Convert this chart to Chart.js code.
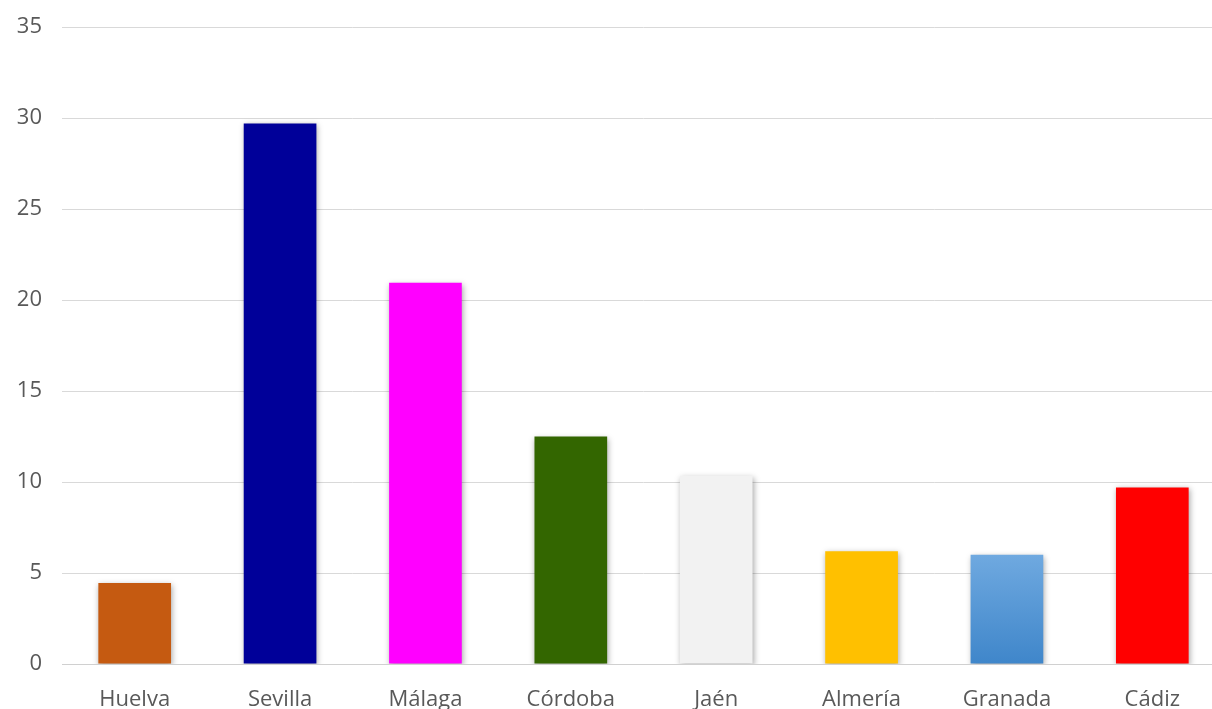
<!DOCTYPE html>
<html>
<head>
<meta charset="utf-8">
<script src="https://cdn.jsdelivr.net/npm/chart.js@4"></script>
<style>
    body { margin: 0; background: #fff; overflow: hidden; }
    #chart-wrap { width: 1212px; height: 709px; overflow: hidden; }
</style>
</head>
<body>
<div id="chart-wrap"><canvas id="provincias" width="1225" height="709"></canvas></div>
<script>
const provincias = ["Huelva", "Sevilla", "Málaga", "Córdoba", "Jaén", "Almería", "Granada", "Cádiz"];
const valores = [4.45, 29.7, 20.95, 12.5, 10.35, 6.2, 6.0, 9.7];
const colores = ["#c55a11", "#000099", "#ff00ff", "#336600", "#f2f2f2", "#ffc000", "granada", "#ff0000"];
const yTicks = [0, 5, 10, 15, 20, 25, 30, 35];

// soft shadow behind the bars, like the office chart
const barShadow = {
    id: 'barShadow',
    beforeDatasetsDraw: (chart) => {
        const ctx = chart.ctx;
        ctx.save();
        ctx.shadowColor = 'rgba(0,0,0,0.35)';
        ctx.shadowBlur = 6;
        ctx.shadowOffsetX = 1;
        ctx.shadowOffsetY = 2;
    },
    afterDatasetsDraw: (chart) => {
        chart.ctx.restore();
    }
};

const fillColor = (context) => {
    const c = colores[context.dataIndex];
    if (c !== "granada") return c;
    const area = context.chart.chartArea;
    const yScale = context.chart.scales.y;
    if (!area || !yScale) return "#5b9bd5";
    const top = yScale.getPixelForValue(valores[context.dataIndex]);
    if (!isFinite(top) || !isFinite(area.bottom)) return "#5b9bd5";
    const g = context.chart.ctx.createLinearGradient(0, top, 0, area.bottom);
    g.addColorStop(0, "#6fa9e0");
    g.addColorStop(1, "#3f86ca");
    return g;
};

new Chart(document.getElementById('provincias'), {
    type: 'bar',
    data: {
        labels: provincias,
        datasets: [{
            data: valores,
            backgroundColor: fillColor,
            borderWidth: 0,
            categoryPercentage: 1,
            barPercentage: 0.5
        }]
    },
    options: {
        responsive: false,
        animation: false,
        layout: { padding: { top: 27, right: 0, left: 0, bottom: 0 } },
        plugins: { legend: { display: false }, tooltip: { enabled: false } },
        scales: {
            x: {
                grid: { display: false },
                border: { color: '#d0d0d0', width: 1 },
                ticks: { color: '#595959', font: { family: 'Open Sans', size: 22 }, padding: 15 },
                afterFit: (s) => { s.height = 45; s.paddingLeft = 0; s.paddingRight = 0; }
            },
            y: {
                min: 0,
                max: 35,
                afterBuildTicks: (s) => { s.ticks = yTicks.map(v => ({ value: v })); },
                grid: { color: '#d9d9d9', drawTicks: false },
                border: { display: false },
                ticks: { color: '#595959', font: { family: 'Open Sans', size: 22 }, padding: 20 },
                afterFit: (s) => { s.width = 62; s.paddingTop = 0; s.paddingBottom = 0; }
            }
        }
    },
    plugins: [barShadow]
});
</script>
</body>
</html>
